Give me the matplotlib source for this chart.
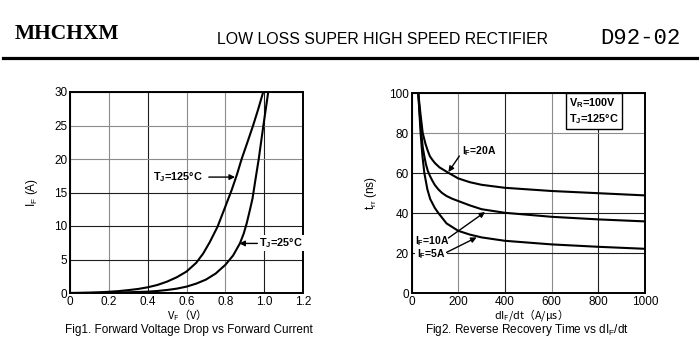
import matplotlib
matplotlib.use("Agg")
import matplotlib.pyplot as plt
from matplotlib.lines import Line2D

plt.rcParams['font.family'] = ['Liberation Sans', 'Noto Sans CJK SC', 'DejaVu Sans']
plt.rcParams['mathtext.default'] = 'regular'

# ---------------- data ----------------
# Fig1: forward characteristics
vf_125 = [0, 0.05, 0.1, 0.15, 0.2, 0.25, 0.3, 0.35, 0.4, 0.45, 0.5, 0.55, 0.6, 0.65,
          0.686, 0.72, 0.76, 0.8, 0.833, 0.86, 0.884, 0.915, 0.943, 0.97, 0.995]
if_125 = [0, 0.02, 0.05, 0.1, 0.18, 0.28, 0.43, 0.6, 0.85, 1.2, 1.7, 2.35, 3.2, 4.5,
          5.9, 7.6, 9.9, 12.9, 15.4, 17.7, 20, 22.6, 25, 27.5, 30]
vf_25 = [0, 0.1, 0.2, 0.3, 0.4, 0.45, 0.5, 0.55, 0.6, 0.65, 0.7, 0.75, 0.8, 0.84,
         0.875, 0.895, 0.91, 0.925, 0.94, 0.955, 0.972, 0.984, 0.996, 1.008, 1.021]
if_25 = [0, 0.02, 0.05, 0.11, 0.2, 0.3, 0.45, 0.65, 0.95, 1.4, 2.0, 2.9, 4.2, 5.6,
         7.4, 8.9, 10.4, 12.2, 14.1, 16.9, 20, 22.5, 25, 27.4, 30]

# Fig2: reverse recovery time
didt_20 = [29, 38, 48, 60, 70, 79, 90, 100, 120, 155, 200, 250, 300, 400, 500, 600, 800, 1000]
trr_20 = [100, 90, 80, 74.5, 71, 68.3, 66.5, 65, 62.8, 60.3, 57.3, 55.4, 54.1, 52.6, 51.8,
          51, 49.9, 48.8]
didt_10 = [29, 35, 42, 48, 55, 62, 70, 80, 90, 100, 115, 130, 150, 175, 200, 250, 300, 400,
           500, 600, 800, 1000]
trr_10 = [100, 90, 80, 73, 68.3, 64.3, 61, 58.3, 56, 54, 51.8, 50.1, 48.5, 47.1, 46, 43.8,
          41.9, 40.1, 39.1, 38.1, 36.8, 35.8]
didt_5 = [29, 34, 39, 43, 47, 55, 68, 80, 100, 115, 150, 200, 250, 300, 400, 500, 600, 800, 1000]
trr_5 = [100, 90, 80, 74, 68.3, 60, 51.8, 47, 42.5, 40, 34.8, 31.1, 29.2, 27.8, 26.1, 25.2,
         24.3, 23.1, 22.1]

x1_ticks = [0, 0.2, 0.4, 0.6, 0.8, 1.0, 1.2]
x1_labels = ['0', '0.2', '0.4', '0.6', '0.8', '1.0', '1.2']
y1_ticks = [0, 5, 10, 15, 20, 25, 30]
x2_ticks = [0, 200, 400, 600, 800, 1000]
y2_ticks = [0, 20, 40, 60, 80, 100]

DARK = '#1e1e1e'
GRAY = '#8c8c8c'
x1_grid_colors = [DARK, GRAY, DARK, GRAY, GRAY, DARK, DARK]
y1_grid_colors = [DARK, DARK, DARK, DARK, GRAY, GRAY, DARK]
x2_grid_colors = [DARK, GRAY, DARK, GRAY, DARK, DARK]
y2_grid_colors = [DARK, DARK, DARK, DARK, GRAY, DARK]

fig = plt.figure(figsize=(7.0, 3.57), dpi=100)
W, H = 700.0, 357.0

# header
fig.text(15 / W, 1 - 34 / H, 'MHCHXM', family='Liberation Serif', fontweight='bold',
         fontsize=15.5, ha='left', va='center')
fig.text(217 / W, 1 - 39 / H, 'LOW LOSS SUPER HIGH SPEED RECTIFIER',
         family='Liberation Sans', fontsize=11.4, ha='left', va='center')
fig.text(600 / W, 1 - 39 / H, 'D92-02', family='Liberation Mono', fontsize=16,
         ha='left', va='center')
fig.add_artist(Line2D([3 / W, 697 / W], [1 - 58 / H, 1 - 58 / H], color='black',
                      lw=2.3, transform=fig.transFigure))

ax1 = fig.add_axes([70 / W, 1 - 293 / H, 233 / W, 201 / H])
ax2 = fig.add_axes([411.5 / W, 1 - 293 / H, 233.5 / W, 200 / H])

for ax in (ax1, ax2):
    for s in ax.spines.values():
        s.set_linewidth(1.4)
        s.set_color('black')
    ax.tick_params(length=0, pad=2.0, labelsize=8.5)
    ax.grid(True, lw=0.8)
    ax.set_axisbelow(True)

# ---- Fig1 ----
ax1.set_xlim(0, 1.2)
ax1.set_ylim(0, 30)
ax1.set_xticks(x1_ticks)
ax1.set_xticklabels(x1_labels)
ax1.set_yticks(y1_ticks)
ax1.plot(vf_125, if_125, color='black', lw=1.5)
ax1.plot(vf_25, if_25, color='black', lw=1.5)
for gl, c in zip(ax1.get_xgridlines(), x1_grid_colors):
    gl.set_color(c)
for gl, c in zip(ax1.get_ygridlines(), y1_grid_colors):
    gl.set_color(c)

arrow = dict(arrowstyle='-|>', color='black', lw=1.0, mutation_scale=8,
             shrinkA=0, shrinkB=0)
ax1.text(0.685, 17.3, 'T$_J$=125°C', fontsize=7.8, fontweight='bold',
         ha='right', va='center')
ax1.annotate('', xy=(0.85, 17.3), xytext=(0.715, 17.3), arrowprops=arrow)
ax1.text(0.975, 7.4, 'T$_J$=25°C', fontsize=7.8, fontweight='bold',
         ha='left', va='center',
         bbox=dict(boxstyle='square,pad=0.1', fc='white', ec='none'))
ax1.annotate('', xy=(0.872, 7.4), xytext=(0.965, 7.4), arrowprops=arrow)

ax1.set_xlabel('V$_F$（V）', family='Noto Sans CJK SC', fontsize=8, va='center')
ax1.xaxis.set_label_coords(0.49, -0.108)
ax1.set_ylabel('I$_F$ (A)', fontsize=8.5)
ax1.yaxis.set_label_coords(-0.129, 0.5)

# ---- Fig2 ----
ax2.set_xlim(0, 1000)
ax2.set_ylim(0, 100)
ax2.set_xticks(x2_ticks)
ax2.set_yticks(y2_ticks)
ax2.plot(didt_20, trr_20, color='black', lw=1.5)
ax2.plot(didt_10, trr_10, color='black', lw=1.5)
ax2.plot(didt_5, trr_5, color='black', lw=1.5)
for gl, c in zip(ax2.get_xgridlines(), x2_grid_colors):
    gl.set_color(c)
for gl, c in zip(ax2.get_ygridlines(), y2_grid_colors):
    gl.set_color(c)

ax2.text(215, 71, 'I$_F$=20A', fontsize=7.5, fontweight='bold', ha='left', va='center')
ax2.annotate('', xy=(158, 60.5), xytext=(205, 68.5), arrowprops=arrow)
ax2.text(15, 26, 'I$_F$=10A', fontsize=7.5, fontweight='bold', ha='left', va='center')
ax2.annotate('', xy=(315, 40.5), xytext=(158, 27.5), arrowprops=arrow)
ax2.text(23, 19.6, 'I$_F$=5A', fontsize=7.5, fontweight='bold', ha='left', va='center',
         bbox=dict(boxstyle='square,pad=0.15', fc='white', ec='none'))
ax2.annotate('', xy=(279, 27.8), xytext=(150, 20.3), arrowprops=arrow)

ax2.text(0.675, 0.91, 'V$_R$=100V\nT$_J$=125°C', transform=ax2.transAxes,
         fontsize=7.8, fontweight='bold', ha='left', va='center', linespacing=1.15,
         bbox=dict(boxstyle='square,pad=0.3', fc='white', ec='black', lw=1.0))

ax2.set_xlabel('dI$_F$/dt（A/μs）', family='Noto Sans CJK SC', fontsize=7.8, va='center')
ax2.xaxis.set_label_coords(0.5, -0.11)
ax2.set_ylabel('t$_{rr}$ (ns)', fontsize=8.5)
ax2.yaxis.set_label_coords(-0.14, 0.5)

# captions
fig.text(189 / W, 1 - 330 / H, 'Fig1. Forward Voltage Drop vs Forward Current',
         fontsize=8.5, ha='center', va='center')
fig.text(527 / W, 1 - 330 / H, 'Fig2. Reverse Recovery Time vs dI$_F$/dt',
         fontsize=8.5, ha='center', va='center')

fig.savefig('out.png', dpi=100, facecolor='white')
